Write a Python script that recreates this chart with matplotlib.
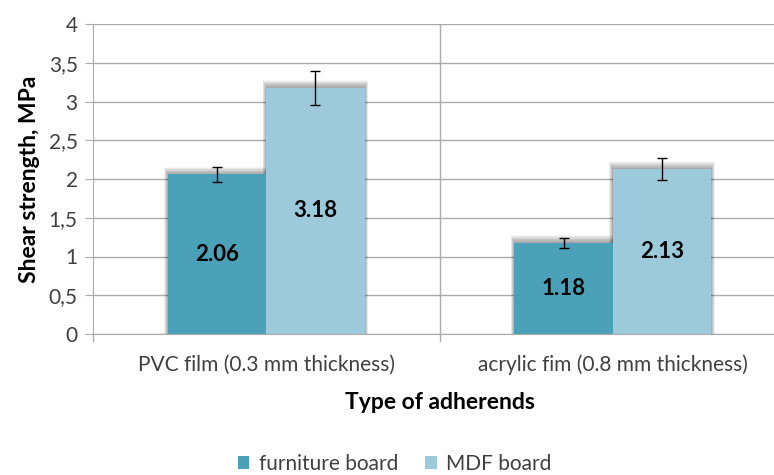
import matplotlib
matplotlib.use("Agg")
import matplotlib.pyplot as plt
from matplotlib.patches import Rectangle
import numpy as np

plt.rcParams['font.family'] = ['Lato', 'DejaVu Sans']

# data
categories = ["PVC film (0.3 mm thickness)", "acrylic fim (0.8 mm thickness)"]
furniture = [2.06, 1.18]
furniture_err = [0.10, 0.065]
mdf = [3.18, 2.13]
mdf_err = [0.22, 0.145]
yticks = [0, 0.5, 1, 1.5, 2, 2.5, 3, 3.5, 4]

c_furn = "#4BA1B7"
c_mdf = "#9DCADB"
grid_c = "#ABABAB"

fig = plt.figure(figsize=(7.74, 4.75), dpi=100)
ax = fig.add_axes([93/774, (475-334)/475, 693/774, 310/475])

x = np.arange(len(categories))
w = 0.284

# soft shadow behind bars (Excel style), mostly on top
def shadow(xc, h):
    for k in range(1, 13):
        dx = k * 0.0009
        dy = k * 0.008
        ax.add_patch(Rectangle((xc - w/2 - dx, 0), w + 2*dx, h + dy,
                               color="black", alpha=0.03, lw=0, zorder=1.5))

for i in range(len(x)):
    shadow(x[i] - w/2, furniture[i])
    shadow(x[i] + w/2, mdf[i])

ax.bar(x - w/2, furniture, w, color=c_furn, zorder=2, label="furniture board")
ax.bar(x + w/2, mdf, w, color=c_mdf, zorder=2, label="MDF board")
ax.errorbar(x - w/2, furniture, yerr=furniture_err, fmt="none", ecolor="black",
            elinewidth=1, capsize=3.8, capthick=1, zorder=4)
ax.errorbar(x + w/2, mdf, yerr=mdf_err, fmt="none", ecolor="black",
            elinewidth=1, capsize=3.8, capthick=1, zorder=4)

for i in range(len(x)):
    ax.text(x[i] - w/2, furniture[i] / 2, f"{furniture[i]:.2f}", ha="center", va="center",
            fontsize=16, fontweight="bold", color="black", zorder=5)
    ax.text(x[i] + w/2, mdf[i] / 2, f"{mdf[i]:.2f}", ha="center", va="center",
            fontsize=16, fontweight="bold", color="black", zorder=5)

ax.set_xlim(-0.5, 1.5)
ax.set_ylim(0, 4)
ax.set_yticks(yticks)
ax.set_yticklabels([str(v).replace(".", ",").replace(",0", "") if v != 0 else "0" for v in yticks])
ax.set_xticks(x)
ax.set_xticklabels(categories)

# horizontal gridlines
ax.yaxis.grid(True, color=grid_c, lw=1, zorder=0)
ax.set_axisbelow(True)
# category separator
ax.axvline(0.5, color=grid_c, lw=1, zorder=0)
ax.plot([0.5, 0.5], [0, -0.09], color=grid_c, lw=1, clip_on=False)

for s in ["top", "right"]:
    ax.spines[s].set_visible(False)
ax.spines["left"].set_color(grid_c)
ax.spines["bottom"].set_color(grid_c)
ax.tick_params(axis="y", length=6, color=grid_c, labelsize=15, pad=5, labelcolor="#404040")
ax.tick_params(axis="x", length=0, labelsize=15, pad=15, labelcolor="#404040")
ax.plot([-0.5, -0.5], [0, -0.09], color=grid_c, lw=1, clip_on=False)

ax.set_ylabel("Shear strength, MPa", fontsize=16.5, fontweight="bold", labelpad=6)
ax.set_xlabel("Type of adherends", fontsize=16.5, fontweight="bold", labelpad=12)

fig.legend(loc="center", bbox_to_anchor=(0.51, 11/475), ncol=2, frameon=False,
           fontsize=15, handlelength=0.55, handleheight=0.55, handletextpad=0.45,
           columnspacing=1.3, labelcolor="#404040")

fig.savefig("out.png", dpi=100)
